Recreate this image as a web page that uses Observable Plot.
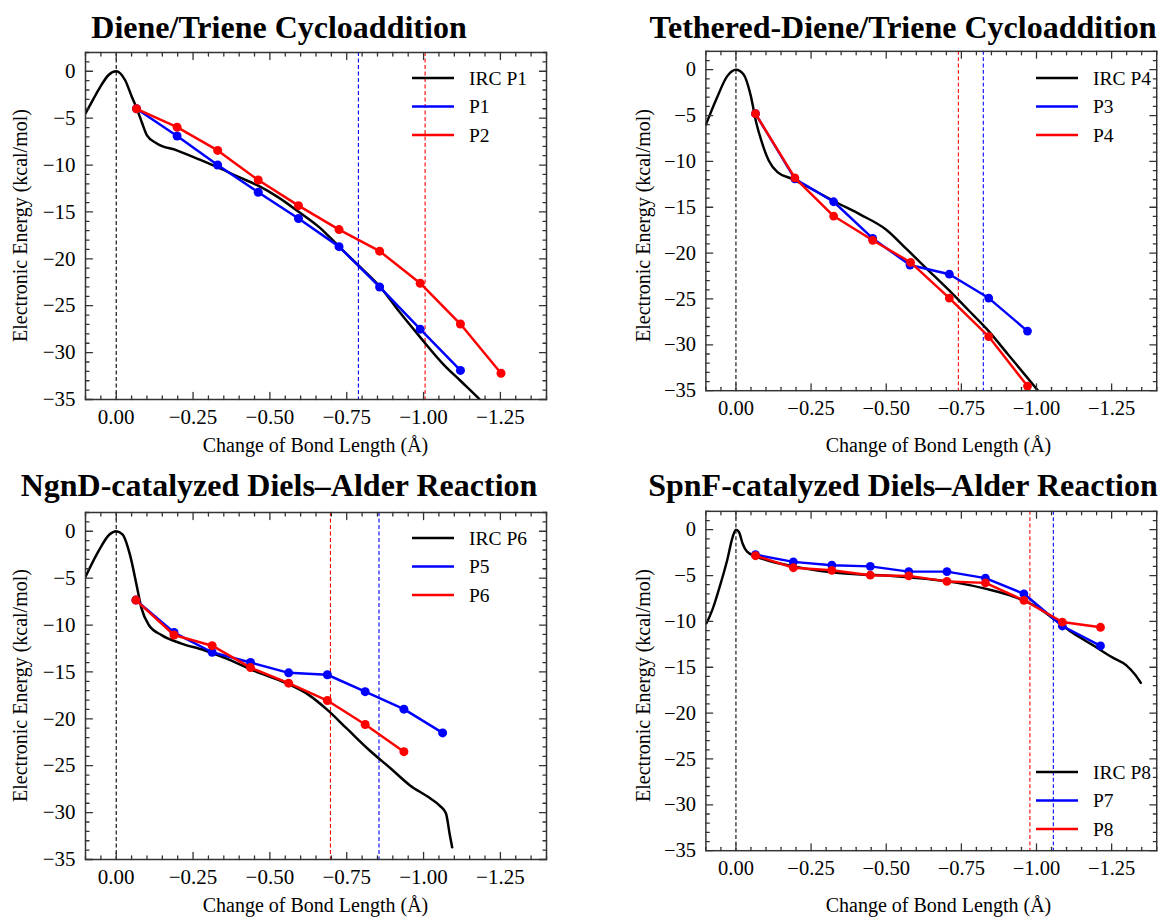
<!DOCTYPE html>
<html><head><meta charset="utf-8">
<script src="https://cdn.jsdelivr.net/npm/d3@7"></script>
<script src="https://cdn.jsdelivr.net/npm/@observablehq/plot@0.6"></script>
<style>
html,body{margin:0;padding:0;background:#fff;overflow:hidden}
#root{position:relative;width:1167px;height:918px;overflow:hidden;font-family:"Liberation Serif","Times New Roman",serif}
.panel{position:absolute}
#overlay{position:absolute;left:0;top:0;pointer-events:none}
</style></head><body><div id="root"></div>
<script>
// ---------- data ----------
const titles = ["Diene/Triene Cycloaddition", "Tethered-Diene/Triene Cycloaddition", "NgnD-catalyzed Diels\u2013Alder Reaction", "SpnF-catalyzed Diels\u2013Alder Reaction"];
const xLabel = "Change of Bond Length (\u00c5)";
const yLabel = "Electronic Energy (kcal/mol)";
const xTickValues = [0, -0.25, -0.5, -0.75, -1.0, -1.25];
const yTickValues = [0, -5, -10, -15, -20, -25, -30, -35];

// Panel 1
const legend1 = ["IRC P1", "P1", "P2"];
const irc1X = [0.1, 0.075, 0.052, 0.025, 0, -0.029, -0.051, -0.067, -0.085, -0.1, -0.132, -0.197, -0.27, -0.327, -0.4, -0.462, -0.53, -0.59, -0.663, -0.725, -0.785, -0.859, -0.92, -0.99, -1.066, -1.12, -1.18, -1.22];
const irc1Y = [-4.5, -3.0, -1.67, -0.4, 0, -0.96, -2.74, -3.98, -5.6, -6.83, -7.7, -8.43, -9.4, -10.2, -11.3, -12.2, -13.5, -14.9, -16.7, -18.7, -20.6, -23.0, -25.6, -28.4, -31.3, -33.0, -34.9, -36.3];
const p1X = [-0.066, -0.198, -0.33, -0.462, -0.593, -0.725, -0.857, -0.989, -1.12];
const p1Y = [-4.0, -6.9, -10.0, -12.9, -15.7, -18.7, -23.0, -27.5, -31.9];
const p2X = [-0.066, -0.198, -0.33, -0.462, -0.593, -0.725, -0.857, -0.989, -1.12, -1.252];
const p2Y = [-4.0, -5.96, -8.44, -11.6, -14.33, -16.88, -19.18, -22.6, -26.95, -32.2];
const vBlue1 = -0.788, vRed1 = -1.005;

// Panel 2
const legend2 = ["IRC P4", "P3", "P4"];
const irc4X = [0.1, 0.065, 0.029, 0, -0.025, -0.049, -0.067, -0.085, -0.109, -0.139, -0.187, -0.246, -0.33, -0.414, -0.498, -0.569, -0.641, -0.701, -0.773, -0.841, -0.904, -0.97, -1.0, -1.03];
const irc4Y = [-6.0, -3.2, -0.7, 0, -0.5, -2.8, -5.7, -7.8, -9.9, -11.2, -11.9, -12.9, -14.4, -15.8, -17.4, -19.6, -21.9, -23.8, -26.2, -28.5, -31.0, -33.6, -34.8, -36.0];
const p3X = [-0.065, -0.196, -0.325, -0.455, -0.579, -0.71, -0.841, -0.97];
const p3Y = [-4.8, -11.9, -14.4, -18.4, -21.3, -22.3, -24.9, -28.5];
const p4X = [-0.065, -0.196, -0.325, -0.455, -0.581, -0.71, -0.841, -0.97];
const p4Y = [-4.8, -11.8, -15.96, -18.6, -21.0, -24.9, -29.1, -34.5];
const vRed2 = -0.74, vBlue2 = -0.823;

// Panel 3
const legend3 = ["IRC P6", "P5", "P6"];
const irc6X = [0.1, 0.059, 0.022, 0, -0.021, -0.045, -0.066, -0.082, -0.106, -0.149, -0.21, -0.284, -0.357, -0.455, -0.553, -0.626, -0.687, -0.749, -0.822, -0.895, -0.956, -1.018, -1.054, -1.073, -1.085, -1.093];
const irc6Y = [-4.86, -2.2, -0.35, 0, -0.35, -2.55, -5.7, -8.2, -10.0, -11.1, -11.95, -12.66, -13.55, -14.96, -16.2, -17.45, -19.05, -21.0, -23.3, -25.35, -27.1, -28.4, -29.3, -30.1, -32.3, -33.7];
const p5X = [-0.064, -0.188, -0.312, -0.437, -0.561, -0.687, -0.81, -0.936, -1.062];
const p5Y = [-7.34, -10.8, -12.9, -14.0, -15.1, -15.3, -17.1, -18.97, -21.5];
const p6X = [-0.064, -0.188, -0.312, -0.437, -0.561, -0.687, -0.81, -0.936];
const p6Y = [-7.34, -11.06, -12.2, -14.54, -16.2, -18.05, -20.6, -23.5];
const vRed3 = -0.697, vBlue3 = -0.855;

// Panel 4
const legend4 = ["IRC P8", "P7", "P8"];
const irc8X = [0.098, 0.077, 0.053, 0.029, 0.011, 0, -0.01, -0.022, -0.037, -0.065, -0.115, -0.187, -0.282, -0.402, -0.522, -0.641, -0.737, -0.833, -0.928, -1.0, -1.06, -1.12, -1.191, -1.251, -1.299, -1.329, -1.347];
const irc8Y = [-10.2, -8.6, -6.1, -3.3, -0.8, 0, -0.25, -1.5, -2.4, -2.9, -3.44, -3.97, -4.5, -4.86, -5.04, -5.39, -5.8, -6.45, -7.34, -8.4, -9.8, -11.24, -12.66, -13.9, -14.79, -15.85, -16.7];
const p7X = [-0.065, -0.191, -0.319, -0.447, -0.575, -0.702, -0.83, -0.958, -1.086, -1.213];
const p7Y = [-2.73, -3.51, -3.87, -4.0, -4.57, -4.57, -5.28, -6.99, -10.5, -12.66];
const p8X = [-0.065, -0.191, -0.319, -0.447, -0.575, -0.702, -0.83, -0.958, -1.086, -1.213];
const p8Y = [-2.84, -4.15, -4.43, -4.96, -5.04, -5.64, -5.8, -7.7, -10.07, -10.64];
const vRed4 = -0.978, vBlue4 = -1.056;

// ---------- helpers ----------
const zip = (xs, ys) => xs.map((x, i) => ({x, y: ys[i]}));
const FONT = "'Liberation Serif','Times New Roman',serif";
const FRAME = "#333";
const xMinor = d3.range(-28, 3).map(i => i * 0.05).filter(v => !xTickValues.some(t => Math.abs(t - v) < 1e-6));
const yMinor = d3.range(-35, 3).filter(v => !yTickValues.includes(v));
const shUp = {draw(c, l) { c.moveTo(0, 0); c.lineTo(0, -l); }};
const shDown = {draw(c, l) { c.moveTo(0, 0); c.lineTo(0, l); }};
const shRight = {draw(c, l) { c.moveTo(0, 0); c.lineTo(l, 0); }};
const shLeft = {draw(c, l) { c.moveTo(0, 0); c.lineTo(-l, 0); }};

function tickMarks() {
  const o = {anchor: "start", stroke: FRAME, strokeWidth: 1.3};
  const out = [];
  for (const [vals, len] of [[xTickValues, 7], [xMinor, 3.5]]) {
    out.push(Plot.vector(vals, {...o, x: d => d, frameAnchor: "bottom", length: len, shape: shUp}));
    out.push(Plot.vector(vals, {...o, x: d => d, frameAnchor: "top", length: len, shape: shDown}));
  }
  for (const [vals, len] of [[yTickValues, 7], [yMinor, 3.5]]) {
    out.push(Plot.vector(vals, {...o, y: d => d, frameAnchor: "left", length: len, shape: shRight}));
    out.push(Plot.vector(vals, {...o, y: d => d, frameAnchor: "right", length: len, shape: shLeft}));
  }
  return out;
}

function panel(cfg) {
  const dash = {strokeWidth: 1.1, strokeDasharray: "4,2.5"};
  return Plot.plot({
    width: cfg.width, height: 460,
    marginLeft: cfg.ml, marginRight: cfg.width - cfg.ml - 461, marginTop: 52, marginBottom: 61,
    style: {fontFamily: FONT, fontSize: "21px", color: "#000", background: "transparent", overflow: "visible"},
    x: {domain: [0.1, -1.4]},
    y: {domain: [-35, 2]},
    marks: [
      Plot.axisX(xTickValues, {tickSize: 0, tickPadding: 10, tickFormat: d3.format(".2f"), fontSize: 21, label: null}),
      Plot.axisY(yTickValues, {tickSize: 0, tickPadding: 10, tickFormat: d3.format("d"), fontSize: 21, label: null}),
      Plot.ruleX([0], {stroke: "black", ...dash}),
      Plot.ruleX([cfg.vBlue], {stroke: "blue", ...dash}),
      Plot.ruleX([cfg.vRed], {stroke: "red", ...dash}),
      Plot.line(cfg.irc, {x: "x", y: "y", stroke: "black", strokeWidth: 2.5, curve: "monotone-x", clip: true}),
      Plot.line(cfg.blue, {x: "x", y: "y", stroke: "blue", strokeWidth: 2.5}),
      Plot.dot(cfg.blue, {x: "x", y: "y", fill: "blue", r: 4.5}),
      Plot.line(cfg.red, {x: "x", y: "y", stroke: "red", strokeWidth: 2.5}),
      Plot.dot(cfg.red, {x: "x", y: "y", fill: "red", r: 4.5}),
      ...tickMarks(),
      Plot.frame({stroke: FRAME, strokeWidth: 1.5})
    ]
  });
}

const panels = [
  {left: 0, top: 0, width: 590, ml: 85, irc: zip(irc1X, irc1Y), blue: zip(p1X, p1Y), red: zip(p2X, p2Y), vBlue: vBlue1, vRed: vRed1},
  {left: 590, top: 0, width: 590, ml: 118, irc: zip(irc4X, irc4Y), blue: zip(p3X, p3Y), red: zip(p4X, p4Y), vBlue: vBlue2, vRed: vRed2},
  {left: 0, top: 460, width: 590, ml: 85, irc: zip(irc6X, irc6Y), blue: zip(p5X, p5Y), red: zip(p6X, p6Y), vBlue: vBlue3, vRed: vRed3},
  {left: 590, top: 460, width: 590, ml: 118, irc: zip(irc8X, irc8Y), blue: zip(p7X, p7Y), red: zip(p8X, p8Y), vBlue: vBlue4, vRed: vRed4}
];

const root = document.getElementById("root");
for (const p of panels) {
  const div = document.createElement("div");
  div.className = "panel";
  div.style.left = p.left + "px";
  div.style.top = p.top + "px";
  div.appendChild(panel(p));
  root.appendChild(div);
}

// ---------- overlay: titles, axis labels and legends ----------
const svg = d3.select(root).append("svg").attr("id", "overlay").attr("width", 1167).attr("height", 918)
  .style("font-family", FONT);
const titlePos = [[279, 38], [903, 38], [279, 496], [903, 496]];
titles.forEach((t, i) => {
  svg.append("text").attr("x", titlePos[i][0]).attr("y", titlePos[i][1]).attr("text-anchor", "middle")
    .attr("font-size", 32).attr("font-weight", "bold").attr("fill", "#000").text(t);
});
panels.forEach(p => {
  const fl = p.left + p.ml, ft = p.top + 52;
  svg.append("text").attr("x", fl + 230.5).attr("y", ft + 347 + 53).attr("text-anchor", "middle")
    .attr("font-size", 20).attr("fill", "#000").text(xLabel);
  svg.append("text").attr("transform", `translate(${fl - 58},${ft + 173.5}) rotate(-90)`)
    .attr("text-anchor", "middle").attr("font-size", 20).attr("fill", "#000").text(yLabel);
});
const legendColors = ["black", "blue", "red"];
const legends = [
  {labels: legend1, x: 412, y: 78},
  {labels: legend2, x: 1036, y: 78},
  {labels: legend3, x: 412, y: 538},
  {labels: legend4, x: 1036, y: 772}
];
for (const lg of legends) {
  lg.labels.forEach((lab, i) => {
    const y = lg.y + i * 28.5;
    svg.append("line").attr("x1", lg.x).attr("x2", lg.x + 42).attr("y1", y).attr("y2", y)
      .attr("stroke", legendColors[i]).attr("stroke-width", 2.5);
    svg.append("text").attr("x", lg.x + 57).attr("y", y).attr("dy", "0.35em").attr("font-size", 19.5)
      .attr("fill", "#000").text(lab);
  });
}
</script></body></html>
